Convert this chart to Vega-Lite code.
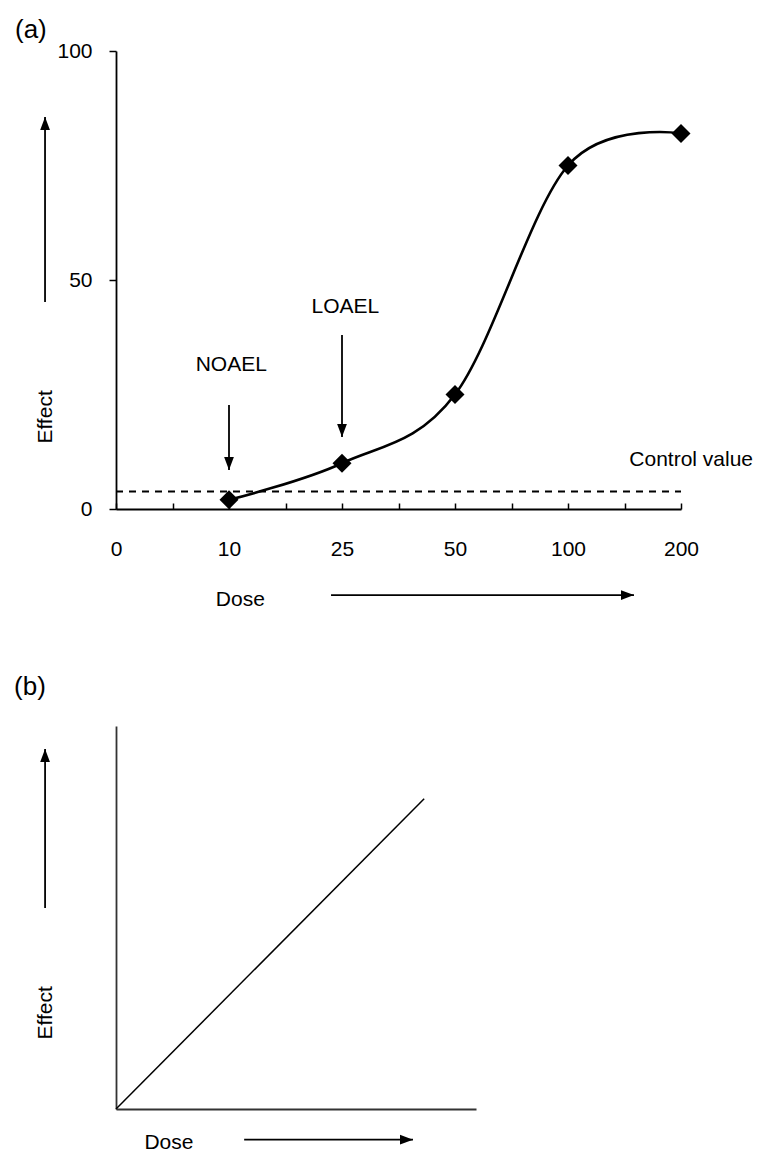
{
  "$schema": "https://vega.github.io/schema/vega-lite/v6.json",
  "background": "white",
  "padding": {"left": 14, "top": 16, "right": 5, "bottom": 4},
  "autosize": {"type": "pad"},
  "align": "none",
  "bounds": "full",
  "spacing": 62,
  "config": {
    "view": {"stroke": null},
    "font": "Liberation Sans",
    "axis": {
      "domainColor": "black",
      "tickColor": "black",
      "domainWidth": 1.8,
      "tickWidth": 1.5,
      "grid": false,
      "labelColor": "black",
      "labelFont": "Liberation Sans",
      "labelFontSize": 21,
      "labelFlush": false,
      "labelOverlap": false,
      "labelBound": false
    }
  },
  "datasets": {
    "curveA": [
      {"dose": "10", "x": 1, "y": 2},
      {"dose": "25", "x": 2, "y": 10},
      {"dose": "50", "x": 3, "y": 25},
      {"dose": "100", "x": 4, "y": 75},
      {"dose": "200", "x": 5, "y": 82}
    ],
    "controlA": [{"x": 0, "x2": 5, "y": 3.8}],
    "arrowsA": [
      {"name": "NOAEL", "x": 1, "y": 8.5, "x2": 1, "y2": 22.7, "dir": "down"},
      {"name": "LOAEL", "x": 2, "y": 15.7, "x2": 2, "y2": 38, "dir": "down"},
      {"name": "Effect", "x": -0.628, "y": 85.6, "x2": -0.628, "y2": 45.2, "dir": "up"},
      {"name": "Dose", "x": 4.584, "y": -18.8, "x2": 1.903, "y2": -18.8, "dir": "right"}
    ],
    "labelsA": [
      {"label": "NOAEL", "x": 1.02, "y": 31.4, "kind": "text"},
      {"label": "LOAEL", "x": 2.03, "y": 44.1, "kind": "text"},
      {"label": "Control value", "x": 5.09, "y": 10.7, "kind": "text"},
      {"label": "Dose", "x": 1.1, "y": -19.9, "kind": "text"},
      {"label": "Effect", "x": -0.619, "y": 20.1, "kind": "vertical"},
      {"label": "(a)", "x": -0.894, "y": 104.6, "kind": "panel"}
    ],
    "lineB": [
      {"x": 0, "y": 0},
      {"x": 8.56, "y": 8.1}
    ],
    "arrowsB": [
      {"name": "Effect", "x": -1.97, "y": 9.4, "x2": -1.97, "y2": 5.25, "dir": "up"},
      {"name": "Dose", "x": 8.25, "y": -0.8, "x2": 3.56, "y2": -0.8, "dir": "right"}
    ],
    "labelsB": [
      {"label": "Dose", "x": 1.47, "y": -0.9, "kind": "text"},
      {"label": "Effect", "x": -1.94, "y": 2.51, "kind": "vertical"},
      {"label": "(b)", "x": -2.833, "y": 11.02, "kind": "panel"}
    ]
  },
  "vconcat": [
    {
      "width": 565,
      "height": 458,
      "encoding": {
        "x": {
          "field": "x", "type": "quantitative",
          "scale": {"domain": [0, 5], "nice": false, "zero": false},
          "axis": {
            "values": [0, 0.5, 1, 1.5, 2, 2.5, 3, 3.5, 4, 4.5, 5],
            "labelExpr": "datum.value % 1 == 0 ? ['0','10','25','50','100','200'][datum.value] : ''",
            "tickSize": -6,
            "labelPadding": 35,
            "title": null
          }
        },
        "y": {
          "field": "y", "type": "quantitative",
          "scale": {"domain": [0, 100], "nice": false},
          "axis": {"values": [0, 50, 100], "tickSize": 7, "labelPadding": 17, "title": null}
        }
      },
      "layer": [
        {
          "data": {"name": "controlA"},
          "mark": {"type": "rule", "strokeDash": [7, 6], "strokeWidth": 2, "color": "black"},
          "encoding": {"x2": {"field": "x2"}}
        },
        {
          "data": {"name": "curveA"},
          "mark": {"type": "line", "interpolate": "cardinal", "strokeWidth": 2.6, "color": "black"}
        },
        {
          "data": {"name": "curveA"},
          "mark": {"type": "point", "shape": "diamond", "filled": true, "size": 360, "color": "black", "opacity": 1}
        },
        {
          "data": {"name": "arrowsA"},
          "mark": {"type": "rule", "strokeWidth": 1.8, "color": "black"},
          "encoding": {"x2": {"field": "x2"}, "y2": {"field": "y2"}}
        },
        {
          "data": {"name": "arrowsA"},
          "transform": [{"filter": "datum.dir === 'up'"}],
          "mark": {"type": "point", "shape": "M0,0L0.75,2L-0.75,2Z", "filled": true, "size": 169, "color": "black", "opacity": 1, "angle": 0}
        },
        {
          "data": {"name": "arrowsA"},
          "transform": [{"filter": "datum.dir === 'down'"}],
          "mark": {"type": "point", "shape": "M0,0L0.75,2L-0.75,2Z", "filled": true, "size": 169, "color": "black", "opacity": 1, "angle": 180}
        },
        {
          "data": {"name": "arrowsA"},
          "transform": [{"filter": "datum.dir === 'right'"}],
          "mark": {"type": "point", "shape": "M0,0L0.75,2L-0.75,2Z", "filled": true, "size": 169, "color": "black", "opacity": 1, "angle": 90}
        },
        {
          "data": {"name": "labelsA"},
          "transform": [{"filter": "datum.kind === 'text'"}],
          "mark": {"type": "text", "fontSize": 21, "font": "Liberation Sans", "color": "black"},
          "encoding": {"text": {"field": "label"}}
        },
        {
          "data": {"name": "labelsA"},
          "transform": [{"filter": "datum.kind === 'vertical'"}],
          "mark": {"type": "text", "fontSize": 21, "font": "Liberation Sans", "color": "black", "angle": 270},
          "encoding": {"text": {"field": "label"}}
        },
        {
          "data": {"name": "labelsA"},
          "transform": [{"filter": "datum.kind === 'panel'"}],
          "mark": {"type": "text", "fontSize": 26, "font": "Liberation Sans", "color": "black", "align": "left"},
          "encoding": {"text": {"field": "label"}}
        }
      ]
    },
    {
      "width": 360,
      "height": 383,
      "encoding": {
        "x": {
          "field": "x", "type": "quantitative",
          "scale": {"domain": [0, 10], "nice": false, "zero": false},
          "axis": {"ticks": false, "labels": false, "title": null, "domainColor": "#333333"}
        },
        "y": {
          "field": "y", "type": "quantitative",
          "scale": {"domain": [0, 10], "nice": false, "zero": false},
          "axis": {"ticks": false, "labels": false, "title": null, "domainColor": "#333333"}
        }
      },
      "layer": [
        {
          "data": {"name": "lineB"},
          "mark": {"type": "line", "strokeWidth": 1.5, "color": "black"}
        },
        {
          "data": {"name": "arrowsB"},
          "mark": {"type": "rule", "strokeWidth": 1.8, "color": "black"},
          "encoding": {"x2": {"field": "x2"}, "y2": {"field": "y2"}}
        },
        {
          "data": {"name": "arrowsB"},
          "transform": [{"filter": "datum.dir === 'up'"}],
          "mark": {"type": "point", "shape": "M0,0L0.75,2L-0.75,2Z", "filled": true, "size": 169, "color": "black", "opacity": 1, "angle": 0}
        },
        {
          "data": {"name": "arrowsB"},
          "transform": [{"filter": "datum.dir === 'right'"}],
          "mark": {"type": "point", "shape": "M0,0L0.75,2L-0.75,2Z", "filled": true, "size": 169, "color": "black", "opacity": 1, "angle": 90}
        },
        {
          "data": {"name": "labelsB"},
          "transform": [{"filter": "datum.kind === 'text'"}],
          "mark": {"type": "text", "fontSize": 21, "font": "Liberation Sans", "color": "black"},
          "encoding": {"text": {"field": "label"}}
        },
        {
          "data": {"name": "labelsB"},
          "transform": [{"filter": "datum.kind === 'vertical'"}],
          "mark": {"type": "text", "fontSize": 21, "font": "Liberation Sans", "color": "black", "angle": 270},
          "encoding": {"text": {"field": "label"}}
        },
        {
          "data": {"name": "labelsB"},
          "transform": [{"filter": "datum.kind === 'panel'"}],
          "mark": {"type": "text", "fontSize": 26, "font": "Liberation Sans", "color": "black", "align": "left"},
          "encoding": {"text": {"field": "label"}}
        }
      ]
    }
  ]
}
